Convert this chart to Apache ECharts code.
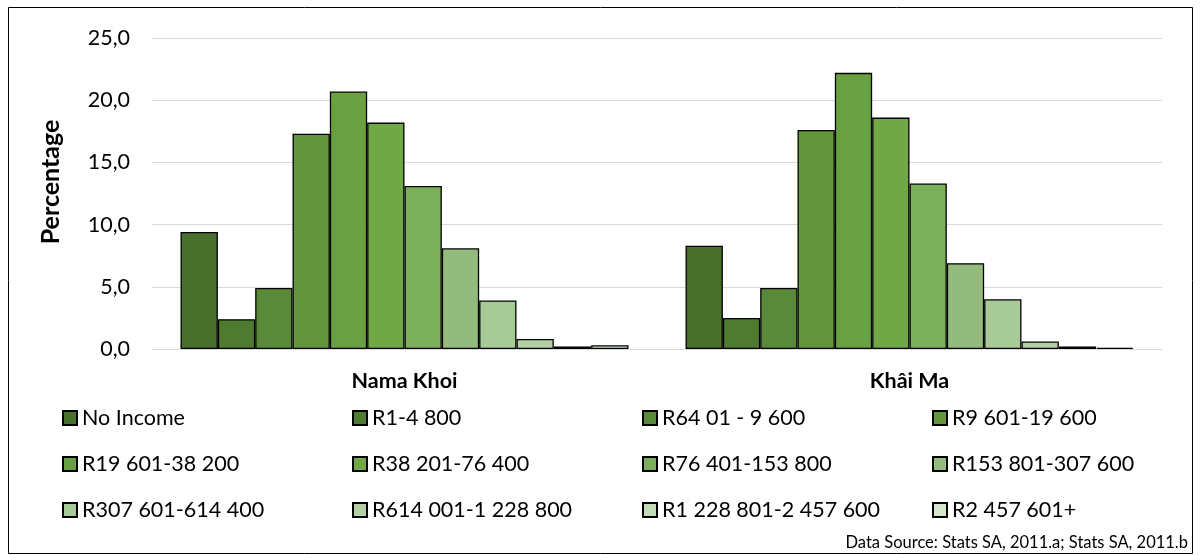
<!DOCTYPE html>
<html>
<head>
<meta charset="utf-8">
<script src="https://cdn.jsdelivr.net/npm/echarts@6/dist/echarts.min.js"></script>
<style>
html,body{margin:0;padding:0;background:#fff;}
#chart{width:1200px;height:555px;}
</style>
</head>
<body>
<div id="chart"></div>
<script>
var categories = ['Nama Khoi', 'Khâi Ma'];
var brackets = ['No Income', 'R1-4 800', 'R64 01 - 9 600', 'R9 601-19 600',
  'R19 601-38 200', 'R38 201-76 400', 'R76 401-153 800', 'R153 801-307 600',
  'R307 601-614 400', 'R614 001-1 228 800', 'R1 228 801-2 457 600', 'R2 457 601+'];
var namaKhoi = [9.4, 2.4, 4.9, 17.3, 20.7, 18.2, 13.1, 8.1, 3.9, 0.8, 0.2, 0.3];
var khaiMa   = [8.3, 2.5, 4.9, 17.6, 22.2, 18.6, 13.3, 6.9, 4.0, 0.6, 0.2, 0.1];
var yTicks = [0, 5, 10, 15, 20, 25];
var colors = ['#49702c', '#4e7b2f', '#5a8a39', '#63963d', '#69a042', '#70a845',
  '#7caf5b', '#93bb7d', '#a8ca97', '#b3d0a4', '#c4dbb9', '#d4e6cc'];

var FONT = 'Lato';
var series = brackets.map(function (b, i) {
  return {
    name: b,
    type: 'bar',
    data: [namaKhoi[i], khaiMa[i]],
    barGap: '0%',
    barCategoryGap: '11.3%',
    itemStyle: { color: colors[i], borderColor: '#000', borderWidth: 1.3 },
    emphasis: { disabled: true }
  };
});

var legendCols = [62, 352, 642, 932];
var legendRowCenters = [418, 464, 510];
var legends = brackets.map(function (b, i) {
  var col = i % 4, row = Math.floor(i / 4);
  return {
    data: [b],
    left: legendCols[col],
    top: legendRowCenters[row] - 11,
    padding: 0,
    itemWidth: 14,
    itemHeight: 14,
    itemGap: 5,
    icon: 'rect',
    textStyle: { fontFamily: FONT, fontSize: 21.5, color: '#000', lineHeight: 22 },
    selectedMode: false
  };
});

var chart = echarts.init(document.getElementById('chart'), null, { renderer: 'canvas' });
chart.setOption({
  animation: false,
  color: colors,
  grid: { left: 152, right: 38, top: 38, bottom: 206, containLabel: false },
  legend: legends,
  xAxis: {
    type: 'category',
    data: categories,
    axisLine: { show: true, lineStyle: { color: '#d9d9d9', width: 1 } },
    axisTick: { show: false },
    axisLabel: { fontFamily: FONT, fontSize: 21.5, fontWeight: 'bold', color: '#000', margin: 21 }
  },
  yAxis: {
    type: 'value',
    min: yTicks[0],
    max: yTicks[yTicks.length - 1],
    interval: 5,
    name: 'Percentage',
    nameLocation: 'middle',
    nameRotate: 90,
    nameGap: 89,
    nameTextStyle: { fontFamily: FONT, fontSize: 25, fontWeight: 'bold', color: '#000', padding: [0, 0, 0, 23] },
    axisLine: { show: false },
    axisTick: { show: false },
    splitLine: { lineStyle: { color: '#d9d9d9', width: 1 } },
    axisLabel: {
      fontFamily: FONT, fontSize: 21.5, color: '#000', margin: 22,
      formatter: function (v) { return v.toFixed(1).replace('.', ','); }
    }
  },
  graphic: [
    { type: 'rect', shape: { x: 8.5, y: 7.5, width: 1184, height: 546 },
      style: { fill: 'none', stroke: '#000', lineWidth: 1 }, silent: true },
    { type: 'text', right: 12, top: 534,
      style: { text: 'Data Source: Stats SA, 2011.a; Stats SA, 2011.b', font: '16.5px ' + FONT, fill: '#000' } }
  ],
  series: series
});
</script>
</body>
</html>
